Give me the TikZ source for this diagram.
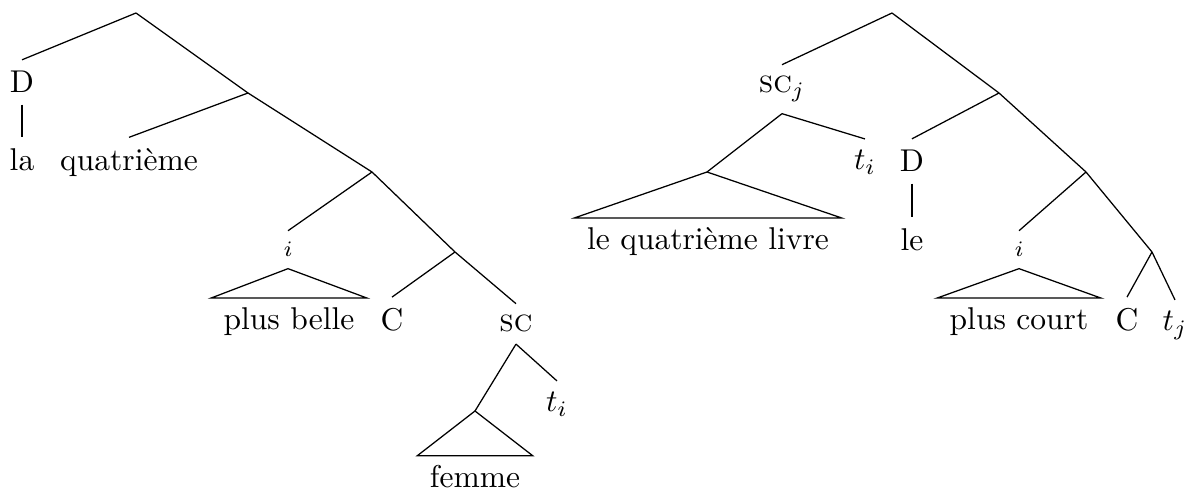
\documentclass[tikz,border=0pt]{standalone}
\usepackage{fontspec}

\begin{document}
\begin{tikzpicture}[
      x=0.01116cm, y=-0.01116cm,
      lbl/.style={anchor=base, inner sep=3.5pt},
      idx/.style={anchor=base, inner sep=3.5pt, font=\scriptsize},
      roof/.style={anchor=base, inner xsep=3.8pt, inner ysep=3pt}
    ]
      \useasboundingbox (0,0) rectangle (1192,495);
      % left tree
      \coordinate (l0) at (136,13);
      \coordinate (l1) at (248,93);
      \coordinate (l2) at (372,172);
      \coordinate (l3) at (455,252);
      \coordinate (l4) at (475,411);
      \node[lbl] (dl)    at (22,93)   {D};
      \node[lbl] (la)    at (22,171)  {la};
      \node[lbl] (quat)  at (129,171) {quatrième};
      \node[idx] (il)    at (288,257) {$i$};
      \node[roof] (belle) at (289,330) {plus belle};
      \node[lbl] (cl)    at (392,331) {C};
      \node[lbl] (scl)   at (516,332) {\textsc{sc}};
      \node[lbl] (til)   at (557,412) {$t_i$};
      \node[roof] (femme) at (475,488) {femme};
      \draw (l0)--(dl.north);
      \draw (dl.south)--(la.north);
      \draw (l0)--(l1);
      \draw (l1)--(quat.north);
      \draw (l1)--(l2);
      \draw (l2)--(il.north);
      \draw (il.south)--(belle.north west)--(belle.north east)--cycle;
      \draw (l2)--(l3);
      \draw (l3)--(cl.north);
      \draw (l3)--(scl.north);
      \draw (scl.south)--(l4);
      \draw (scl.south)--(til.north);
      \draw (l4)--(femme.north west)--(femme.north east)--cycle;
      % right tree
      \coordinate (r0) at (892,13);
      \coordinate (r1) at (999,93);
      \coordinate (r2) at (707,172);
      \coordinate (r3) at (1086,172);
      \coordinate (r4) at (1152,252);
      \node[lbl] (scj)   at (782,93)   {\textsc{sc}$_j$};
      \node[roof] (livre) at (708,250) {le quatrième livre};
      \node[lbl] (tir)   at (865,170)  {$t_i$};
      \node[lbl] (dr)    at (912,172)  {D};
      \node[lbl] (le)    at (912,251)  {le};
      \node[idx] (ir)    at (1019,257) {$i$};
      \node[roof] (court) at (1019,330) {plus court};
      \node[lbl] (cr)    at (1127,331) {C};
      \node[lbl] (tj)    at (1175,331) {$t_j$};
      \draw (r0)--(scj.north);
      \draw (scj.south)--(r2);
      \draw (scj.south)--(tir.north);
      \draw (r2)--(livre.north west)--(livre.north east)--cycle;
      \draw (r0)--(r1);
      \draw (r1)--(dr.north);
      \draw (dr.south)--(le.north);
      \draw (r1)--(r3);
      \draw (r3)--(ir.north);
      \draw (ir.south)--(court.north west)--(court.north east)--cycle;
      \draw (r3)--(r4);
      \draw (r4)--(cr.north);
      \draw (r4)--(tj.north);
    \end{tikzpicture}
\end{document}
